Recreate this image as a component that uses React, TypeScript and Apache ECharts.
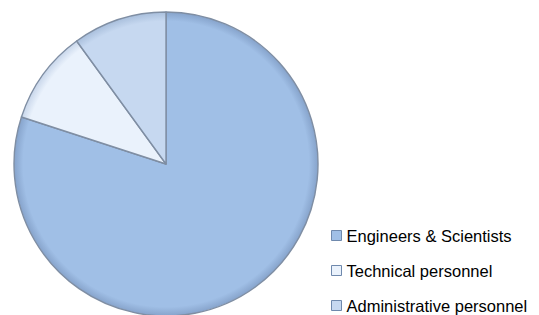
import React, { useEffect, useRef } from "react";
import * as echarts from "echarts";

const categories = ["Engineers & Scientists", "Technical personnel", "Administrative personnel"];
const values = [80, 10, 10];
const colors = ["#a0bfe6", "#eaf2fc", "#c6d8f0"];
const edgeColors = ["#86a3cb", "#c8d6ea", "#a9bfdc"];

export default function App() {
  const ref = useRef<HTMLDivElement>(null);
  useEffect(() => {
    if (!ref.current) return;
    const chart = echarts.init(ref.current, undefined, { renderer: "svg" });
    chart.setOption({
      animation: false,
      backgroundColor: "#ffffff",
      legend: {
        orient: "vertical",
        left: 331,
        top: 227,
        height: 200,
        padding: 0,
        itemWidth: 10,
        itemHeight: 10,
        itemGap: 18,
        icon: "rect",
        textStyle: { fontFamily: "Liberation Sans", fontSize: 16.5, color: "#000000" },
        data: categories.map((c, i) => ({
          name: c,
          itemStyle: { color: colors[i], borderColor: "#6f89ad", borderWidth: 1 },
        })),
      },
      series: [
        {
          type: "pie",
          center: [166, 164],
          radius: 152,
          startAngle: 90,
          clockwise: true,
          label: { show: false },
          labelLine: { show: false },
          emphasis: { disabled: true },
          itemStyle: {
            borderColor: "#7f8ea3",
            borderWidth: 1.4,
          },
          data: categories.map((c, i) => ({
            name: c,
            value: values[i],
            itemStyle: {
              color: {
                type: "radial",
                x: 166,
                y: 164,
                r: 152,
                global: true,
                colorStops: [
                  { offset: 0, color: colors[i] },
                  { offset: 0.94, color: colors[i] },
                  { offset: 1, color: edgeColors[i] },
                ],
              },
            },
          })),
        },
      ],
    });
    return () => chart.dispose();
  }, []);
  return <div ref={ref} style={{ width: 539, height: 315, position: "absolute", left: 0, top: 0 }} />;
}
